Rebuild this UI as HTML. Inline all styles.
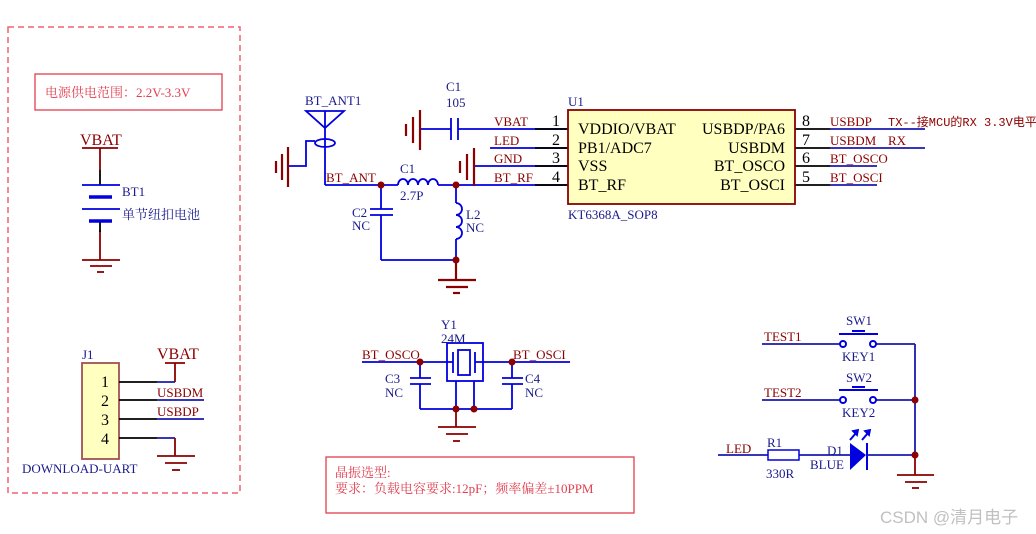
<!DOCTYPE html>
<html><head><meta charset="utf-8"><style>
body{margin:0;background:#fff}
svg{display:block}
text{font-family:"Liberation Serif","Noto Serif CJK SC",serif}
.n{fill:#1a1a8c;font-size:13px}
.r{fill:#8b0000;font-size:13px}
.b{fill:#000;font-size:16px}
</style></head><body>
<svg width="1036" height="534" viewBox="0 0 1036 534" xmlns="http://www.w3.org/2000/svg">
<g fill="none" stroke-width="1.8">
<rect x="8" y="27" width="232" height="466" stroke="#f06070" stroke-dasharray="6,4" stroke-width="1.5"/>
<rect x="35" y="74" width="187" height="36" stroke="#e03040" stroke-width="1.2"/>
<rect x="326" y="457" width="308" height="56" stroke="#e03040" stroke-width="1.2"/>

<g stroke="#8b0000"><line x1="82" y1="148" x2="118" y2="148"/><line x1="100" y1="148" x2="100" y2="170"/><line x1="100" y1="230" x2="100" y2="260"/>
<line x1="82" y1="260" x2="120" y2="260"/><line x1="90" y1="266" x2="112" y2="266"/><line x1="97" y1="272" x2="104" y2="272"/></g>
<g stroke="#000"><line x1="100" y1="170" x2="100" y2="185"/><line x1="100" y1="221" x2="100" y2="232"/></g>
<g stroke="#0000e0"><line x1="82" y1="185" x2="120" y2="185"/><line x1="89" y1="197" x2="112" y2="197" stroke-width="3.5"/><line x1="82" y1="209" x2="120" y2="209"/><line x1="89" y1="221" x2="112" y2="221" stroke-width="3.5"/></g>

<rect x="82" y="363" width="37" height="96" fill="#ffffc0" stroke="#a05050"/>
<g stroke="#000"><line x1="119" y1="382" x2="157" y2="382"/><line x1="119" y1="400" x2="157" y2="400"/><line x1="119" y1="419" x2="157" y2="419"/><line x1="119" y1="438" x2="157" y2="438"/></g>
<g stroke="#1a1ab0"><line x1="157" y1="382" x2="175" y2="382"/><line x1="157" y1="400" x2="204" y2="400"/><line x1="157" y1="419" x2="204" y2="419"/><line x1="157" y1="438" x2="175" y2="438"/></g>
<g stroke="#8b0000"><line x1="165" y1="363" x2="185" y2="363"/><line x1="175" y1="363" x2="175" y2="382"/><line x1="175" y1="438" x2="175" y2="456"/>
<line x1="157" y1="456" x2="195" y2="456"/><line x1="165" y1="463" x2="187" y2="463"/><line x1="172" y1="470" x2="180" y2="470"/></g>

<g stroke="#0000e0"><path d="M306 111 L344 111 L325 128 Z"/><line x1="325" y1="111" x2="325" y2="185"/><ellipse cx="325" cy="143" rx="10" ry="4"/>
<polyline points="315,141 306,141 306,166 288,166"/>
<line x1="325" y1="185" x2="398" y2="185"/><path d="M398 185 a5 6 0 0 1 10 0 a5 6 0 0 1 10 0 a5 6 0 0 1 10 0 a5 6 0 0 1 10 0"/>
<line x1="438" y1="185" x2="568" y2="185"/>
<line x1="381" y1="185" x2="381" y2="209"/><line x1="370" y1="209" x2="393" y2="209"/><line x1="370" y1="215" x2="393" y2="215"/><line x1="381" y1="215" x2="381" y2="260"/>
<line x1="381" y1="260" x2="456" y2="260"/>
<line x1="456" y1="185" x2="456" y2="203"/><path d="M456 203 a6 6 0 0 1 0 12 a6 6 0 0 1 0 12 a6 6 0 0 1 0 12"/><line x1="456" y1="239" x2="456" y2="260"/>
<line x1="420" y1="129" x2="451" y2="129"/><line x1="451" y1="118" x2="451" y2="140"/><line x1="458" y1="118" x2="458" y2="140"/><line x1="458" y1="129" x2="568" y2="129"/>
<line x1="490" y1="148" x2="568" y2="148"/><line x1="474" y1="166" x2="568" y2="166"/>
</g>
<g stroke="#8b0000" stroke-width="2.2"><line x1="288" y1="147" x2="288" y2="187"/><line x1="282" y1="154" x2="282" y2="180"/><line x1="276" y1="161" x2="276" y2="173"/>
<line x1="420" y1="110" x2="420" y2="150"/><line x1="413" y1="117" x2="413" y2="143"/><line x1="406" y1="124" x2="406" y2="136"/>
<line x1="474" y1="148" x2="474" y2="186"/><line x1="467" y1="154" x2="467" y2="180"/><line x1="460" y1="161" x2="460" y2="173"/>
<line x1="456" y1="260" x2="456" y2="280"/><line x1="438" y1="280" x2="476" y2="280"/><line x1="446" y1="287" x2="468" y2="287"/><line x1="453" y1="293" x2="460" y2="293"/></g>
<g stroke="#000"><line x1="535" y1="129" x2="568" y2="129"/><line x1="535" y1="148" x2="568" y2="148"/><line x1="535" y1="166" x2="568" y2="166"/><line x1="535" y1="185" x2="568" y2="185"/>
<line x1="795" y1="129" x2="830" y2="129"/><line x1="795" y1="148" x2="830" y2="148"/><line x1="795" y1="166" x2="830" y2="166"/><line x1="795" y1="185" x2="830" y2="185"/></g>
<g stroke="#1a1ab0"><line x1="830" y1="129" x2="925" y2="129"/><line x1="830" y1="148" x2="925" y2="148"/><line x1="830" y1="166" x2="877" y2="166"/><line x1="830" y1="185" x2="877" y2="185"/></g>
<rect x="568" y="110" width="227" height="94" fill="#ffffc0" stroke="#8b0000"/>

<g stroke="#0000e0"><line x1="362" y1="362" x2="453" y2="362"/><line x1="475" y1="362" x2="570" y2="362"/>
<rect x="447" y="343" width="36" height="38"/><rect x="458" y="350" width="12" height="25"/><line x1="453" y1="352" x2="453" y2="373"/><line x1="475" y1="352" x2="475" y2="373"/>
<line x1="420" y1="362" x2="420" y2="378"/><line x1="410" y1="378" x2="431" y2="378"/><line x1="410" y1="384" x2="431" y2="384"/><line x1="420" y1="384" x2="420" y2="409"/>
<line x1="512" y1="362" x2="512" y2="378"/><line x1="502" y1="378" x2="523" y2="378"/><line x1="502" y1="384" x2="523" y2="384"/><line x1="512" y1="384" x2="512" y2="409"/>
<line x1="420" y1="409" x2="512" y2="409"/><line x1="456" y1="381" x2="456" y2="409"/><line x1="474" y1="381" x2="474" y2="409"/></g>
<g stroke="#8b0000"><line x1="456" y1="409" x2="456" y2="427"/><line x1="438" y1="427" x2="476" y2="427"/><line x1="446" y1="434" x2="468" y2="434"/><line x1="453" y1="441" x2="460" y2="441"/></g>

<g stroke="#1a1ab0"><line x1="762" y1="344" x2="840" y2="344"/><line x1="876" y1="344" x2="915" y2="344"/><line x1="915" y1="344" x2="915" y2="455"/>
<line x1="762" y1="400" x2="840" y2="400"/><line x1="876" y1="400" x2="915" y2="400"/>
<line x1="718" y1="455" x2="768" y2="455"/><line x1="799" y1="455" x2="850" y2="455"/><line x1="866" y1="455" x2="915" y2="455"/></g>
<g stroke="#0000e0" stroke-width="2"><circle cx="843" cy="344" r="3"/><circle cx="873" cy="344" r="3"/><line x1="839" y1="334" x2="878" y2="334"/><line x1="852" y1="331" x2="865" y2="331"/>
<circle cx="843" cy="400" r="3"/><circle cx="873" cy="400" r="3"/><line x1="839" y1="390" x2="878" y2="390"/><line x1="852" y1="387" x2="865" y2="387"/>
<rect x="768" y="450" width="31" height="10" stroke-width="1.5"/>
<line x1="867" y1="443" x2="867" y2="470"/>
<line x1="850" y1="440" x2="856" y2="433"/><line x1="862" y1="440" x2="868" y2="433"/></g>
<path d="M850 443 L866 455 L850 470 Z" fill="#0000e0"/>
<path d="M858 430 L853 431 L857 435 Z M870 430 L865 431 L869 435 Z" fill="#0000e0" stroke="#0000e0"/>
<g stroke="#8b0000"><line x1="915" y1="455" x2="915" y2="475"/><line x1="897" y1="475" x2="934" y2="475"/><line x1="905" y1="482" x2="927" y2="482"/><line x1="912" y1="488" x2="919" y2="488"/></g>
</g>
<g fill="#8b0000"><circle cx="381" cy="185" r="3.5"/><circle cx="456" cy="185" r="3.5"/><circle cx="456" cy="260" r="3.5"/>
<circle cx="420" cy="362" r="3.5"/><circle cx="512" cy="362" r="3.5"/><circle cx="456" cy="409" r="3.5"/><circle cx="474" cy="409" r="3.5"/>
<circle cx="915" cy="400" r="3.5"/><circle cx="915" cy="455" r="3.5"/></g>

<text x="45" y="97" fill="#e04050" font-size="13">电源供电范围：2.2V-3.3V</text>
<text x="80" y="145" class="r" style="font-size:16px">VBAT</text>
<text x="122" y="196" class="n">BT1</text>
<text x="122" y="219" class="n">单节纽扣电池</text>
<text x="82" y="359" class="n">J1</text>
<text x="101" y="387" class="b">1</text><text x="101" y="406" class="b">2</text><text x="101" y="425" class="b">3</text><text x="101" y="444" class="b">4</text>
<text x="157" y="359" class="r" style="font-size:16px">VBAT</text>
<text x="157" y="397" class="r">USBDM</text>
<text x="157" y="416" class="r">USBDP</text>
<text x="22" y="473" class="n">DOWNLOAD-UART</text>

<text x="305" y="105" class="n">BT_ANT1</text>
<text x="326" y="182" class="r">BT_ANT</text>
<text x="400" y="173" class="n">C1</text><text x="400" y="200" class="n">2.7P</text>
<text x="352" y="217" class="n">C2</text><text x="352" y="230" class="n">NC</text>
<text x="466" y="219" class="n">L2</text><text x="466" y="232" class="n">NC</text>
<text x="446" y="91" class="n">C1</text><text x="446" y="107" class="n">105</text>
<text x="494" y="126" class="r">VBAT</text><text x="494" y="145" class="r">LED</text><text x="494" y="163" class="r">GND</text><text x="494" y="182" class="r">BT_RF</text>
<text x="552" y="126" class="b">1</text><text x="552" y="145" class="b">2</text><text x="552" y="163" class="b">3</text><text x="552" y="182" class="b">4</text>
<text x="568" y="106" class="n">U1</text>
<text x="578" y="134" class="b">VDDIO/VBAT</text><text x="578" y="153" class="b">PB1/ADC7</text><text x="578" y="171" class="b">VSS</text><text x="578" y="190" class="b">BT_RF</text>
<g text-anchor="end"><text x="785" y="134" class="b">USBDP/PA6</text><text x="785" y="153" class="b">USBDM</text><text x="785" y="171" class="b">BT_OSCO</text><text x="785" y="190" class="b">BT_OSCI</text></g>
<text x="568" y="219" class="n">KT6368A_SOP8</text>
<text x="802" y="126" class="b">8</text><text x="802" y="145" class="b">7</text><text x="802" y="163" class="b">6</text><text x="802" y="182" class="b">5</text>
<text x="830" y="126" class="r">USBDP</text><text x="888" y="126" fill="#8b0000" font-size="12" style="font-family:'Liberation Mono','Noto Sans CJK SC',monospace">TX--接MCU的RX 3.3V电平</text>
<text x="830" y="145" class="r">USBDM</text><text x="888" y="145" class="r">RX</text>
<text x="830" y="163" class="r">BT_OSCO</text><text x="830" y="182" class="r">BT_OSCI</text>

<text x="441" y="329" class="n">Y1</text><text x="441" y="343" class="n">24M</text>
<text x="362" y="359" class="r">BT_OSCO</text><text x="513" y="359" class="r">BT_OSCI</text>
<text x="385" y="383" class="n">C3</text><text x="385" y="397" class="n">NC</text>
<text x="525" y="383" class="n">C4</text><text x="525" y="397" class="n">NC</text>
<text x="335" y="477" fill="#e04050" font-size="13">晶振选型:</text>
<text x="335" y="493" fill="#e04050" font-size="13">要求：负载电容要求:12pF；频率偏差±10PPM</text>

<text x="764" y="341" class="r">TEST1</text><text x="764" y="397" class="r">TEST2</text>
<text x="846" y="325" class="n">SW1</text><text x="842" y="361" class="n">KEY1</text>
<text x="846" y="382" class="n">SW2</text><text x="842" y="417" class="n">KEY2</text>
<text x="726" y="453" class="r">LED</text>
<text x="767" y="447" class="n">R1</text><text x="766" y="478" class="n">330R</text>
<text x="827" y="455" class="n">D1</text><text x="810" y="469" class="n">BLUE</text>
<text x="880" y="523" fill="#c0c0c0" font-size="17" style="font-family:'Liberation Sans','Noto Sans CJK SC',sans-serif">CSDN @清月电子</text>
</svg>
</body></html>
